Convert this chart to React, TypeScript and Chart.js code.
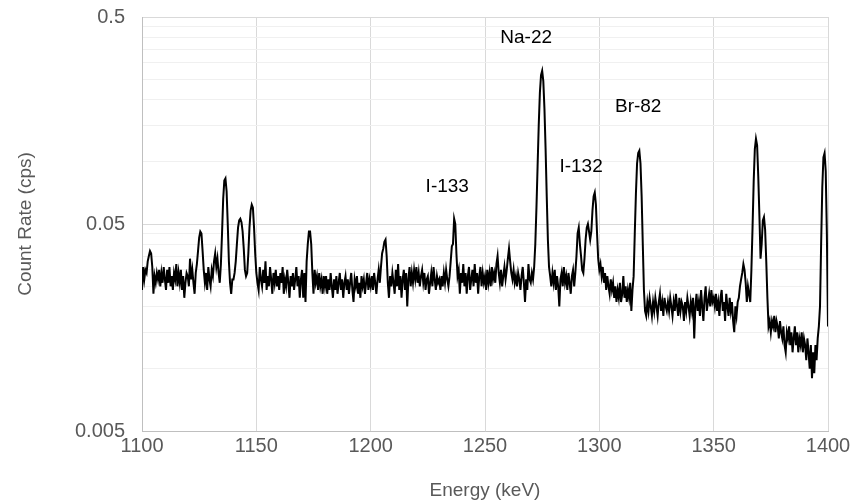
import React, { useEffect, useRef } from "react";
import { Chart, registerables } from "chart.js";

Chart.register(...registerables);

// ---- Data ----
const energyStart = 1100; // keV, first channel
const energyStep = 0.5; // keV per channel

// Count rate (cps), one row per 10 keV (20 channels per row)
const countRate: number[] = [
  // 1100
  0.024, 0.031, 0.027, 0.030, 0.029, 0.033, 0.035, 0.037, 0.036, 0.031, 0.023, 0.028, 0.026, 0.029, 0.027, 0.030, 0.025, 0.029, 0.026, 0.031,
  // 1110
  0.027, 0.024, 0.030, 0.026, 0.031, 0.025, 0.028, 0.024, 0.029, 0.027, 0.032, 0.025, 0.029, 0.026, 0.030, 0.024, 0.028, 0.022, 0.026, 0.029,
  // 1120
  0.028, 0.025, 0.034, 0.027, 0.030, 0.026, 0.023, 0.029, 0.032, 0.037, 0.043, 0.046, 0.045, 0.037, 0.030, 0.026, 0.029, 0.024, 0.031, 0.027,
  // 1130
  0.025, 0.030, 0.028, 0.033, 0.036, 0.031, 0.034, 0.029, 0.026, 0.032, 0.045, 0.066, 0.081, 0.083, 0.072, 0.050, 0.033, 0.026, 0.023, 0.027,
  // 1140
  0.027, 0.029, 0.033, 0.040, 0.048, 0.052, 0.053, 0.051, 0.046, 0.038, 0.030, 0.028, 0.029, 0.036, 0.048, 0.058, 0.062, 0.060, 0.048, 0.036,
  // 1150
  0.029, 0.026, 0.024, 0.031, 0.027, 0.025, 0.030, 0.026, 0.033, 0.024, 0.028, 0.025, 0.031, 0.027, 0.023, 0.029, 0.026, 0.030, 0.025, 0.028,
  // 1160
  0.024, 0.029, 0.026, 0.031, 0.023, 0.027, 0.025, 0.030, 0.026, 0.022, 0.028, 0.025, 0.029, 0.024, 0.027, 0.031, 0.025, 0.028, 0.022, 0.027,
  // 1170
  0.030, 0.022, 0.029, 0.021, 0.033, 0.040, 0.046, 0.046, 0.040, 0.029, 0.023, 0.030, 0.026, 0.028, 0.024, 0.029, 0.025, 0.027, 0.023, 0.028,
  // 1180
  0.025, 0.028, 0.023, 0.027, 0.024, 0.029, 0.025, 0.022, 0.027, 0.024, 0.028, 0.023, 0.026, 0.029, 0.024, 0.027, 0.022, 0.026, 0.028, 0.024,
  // 1190
  0.027, 0.023, 0.026, 0.029, 0.024, 0.021, 0.027, 0.025, 0.028, 0.023, 0.026, 0.022, 0.028, 0.025, 0.027, 0.023, 0.026, 0.029, 0.024, 0.027,
  // 1200
  0.025, 0.028, 0.024, 0.029, 0.026, 0.023, 0.027, 0.030, 0.026, 0.031, 0.036, 0.038, 0.041, 0.042, 0.035, 0.026, 0.022, 0.028, 0.025, 0.029,
  // 1210
  0.026, 0.023, 0.030, 0.025, 0.032, 0.024, 0.028, 0.022, 0.027, 0.030, 0.024, 0.029, 0.020, 0.027, 0.031, 0.025, 0.029, 0.026, 0.030, 0.027,
  // 1220
  0.031, 0.026, 0.029, 0.025, 0.028, 0.030, 0.026, 0.029, 0.024, 0.027, 0.028, 0.023, 0.026, 0.029, 0.025, 0.031, 0.027, 0.024, 0.028, 0.026,
  // 1230
  0.027, 0.024, 0.028, 0.025, 0.029, 0.026, 0.030, 0.027, 0.025, 0.028, 0.033, 0.039, 0.040, 0.053, 0.050, 0.036, 0.028, 0.030, 0.023, 0.029,
  // 1240
  0.026, 0.032, 0.025, 0.029, 0.023, 0.028, 0.031, 0.024, 0.027, 0.030, 0.025, 0.032, 0.026, 0.029, 0.023, 0.028, 0.031, 0.025, 0.029, 0.026,
  // 1250
  0.028, 0.024, 0.030, 0.026, 0.029, 0.025, 0.031, 0.027, 0.029, 0.026, 0.032, 0.035, 0.029, 0.026, 0.030, 0.025, 0.028, 0.031, 0.027, 0.030,
  // 1260
  0.034, 0.038, 0.033, 0.029, 0.027, 0.030, 0.026, 0.028, 0.025, 0.029, 0.027, 0.024, 0.028, 0.031, 0.026, 0.021, 0.027, 0.024, 0.032, 0.027,
  // 1270
  0.026, 0.029, 0.027, 0.031, 0.040, 0.060, 0.095, 0.150, 0.215, 0.262, 0.275, 0.245, 0.180, 0.115, 0.068, 0.042, 0.031, 0.028, 0.025, 0.029,
  // 1280
  0.026, 0.030, 0.024, 0.028, 0.025, 0.020, 0.027, 0.029, 0.025, 0.031, 0.026, 0.028, 0.024, 0.029, 0.026, 0.023, 0.028, 0.030, 0.025, 0.029,
  // 1290
  0.035, 0.045, 0.048, 0.040, 0.035, 0.030, 0.029, 0.034, 0.042, 0.048, 0.050, 0.046, 0.042, 0.046, 0.058, 0.068, 0.071, 0.062, 0.045, 0.034,
  // 1300
  0.030, 0.032, 0.028, 0.031, 0.026, 0.029, 0.024, 0.028, 0.025, 0.023, 0.027, 0.024, 0.026, 0.022, 0.025, 0.021, 0.024, 0.022, 0.026, 0.021,
  // 1310
  0.023, 0.028, 0.022, 0.025, 0.021, 0.024, 0.022, 0.026, 0.019, 0.024, 0.028, 0.045, 0.070, 0.098, 0.110, 0.113, 0.098, 0.068, 0.040, 0.024,
  // 1320
  0.019, 0.018, 0.021, 0.019, 0.022, 0.020, 0.018, 0.021, 0.019, 0.022, 0.020, 0.018, 0.021, 0.023, 0.019, 0.021, 0.018, 0.022, 0.020, 0.019,
  // 1330
  0.021, 0.019, 0.022, 0.020, 0.018, 0.021, 0.019, 0.023, 0.020, 0.018, 0.022, 0.019, 0.021, 0.020, 0.017, 0.021, 0.019, 0.022, 0.020, 0.018,
  // 1340
  0.021, 0.019, 0.022, 0.014, 0.020, 0.023, 0.019, 0.021, 0.018, 0.024, 0.020, 0.017, 0.022, 0.025, 0.019, 0.021, 0.023, 0.020, 0.024, 0.021,
  // 1350
  0.022, 0.020, 0.023, 0.019, 0.021, 0.018, 0.022, 0.024, 0.019, 0.021, 0.017, 0.023, 0.020, 0.018, 0.022, 0.019, 0.021, 0.017, 0.015, 0.020,
  // 1360
  0.018, 0.021, 0.022, 0.025, 0.027, 0.029, 0.032, 0.030, 0.026, 0.021, 0.025, 0.023, 0.021, 0.030, 0.048, 0.080, 0.115, 0.129, 0.120, 0.085,
  // 1370
  0.055, 0.034, 0.040, 0.052, 0.054, 0.047, 0.033, 0.022, 0.016, 0.017, 0.015, 0.017, 0.016, 0.018, 0.015, 0.017, 0.016, 0.014, 0.017, 0.015,
  // 1380
  0.014, 0.016, 0.013, 0.012, 0.015, 0.014, 0.016, 0.013, 0.015, 0.012, 0.014, 0.016, 0.013, 0.015, 0.012, 0.014, 0.013, 0.015, 0.012, 0.014,
  // 1390 - 1400
  0.013, 0.011, 0.014, 0.012, 0.010, 0.013, 0.009, 0.012, 0.0095, 0.013, 0.011, 0.014, 0.016, 0.020, 0.040, 0.075, 0.105, 0.110, 0.090, 0.045,
  0.016,
];

const energies: number[] = countRate.map((_, i) => energyStart + i * energyStep);

const xMin = 1100;
const xMax = 1400;
const xStep = 50;

const yMin = 0.005;
const yMax = 0.5;
const yLabelTicks = [0.005, 0.05, 0.5];
const yMinorMultipliers = [1, 2, 3, 4, 5, 6, 7, 8, 9];

const peakNames = ["Na-22", "Br-82", "I-132", "I-133"];
const peakLabelEnergy = [1268, 1317, 1292, 1233.5];
const peakLabelRate = [0.396, 0.184, 0.094, 0.0755];

const xTitle = "Energy (keV)";
const yTitle = "Count Rate (cps)";

// ---- Helpers ----
const yTickValues: number[] = [];
yLabelTicks.slice(0, -1).forEach((base) => {
  yMinorMultipliers.forEach((m) => yTickValues.push(base * m));
});
yTickValues.push(yMax);

const isDecade = (v: number) => {
  const r = Math.log10(v / yMin);
  return Math.abs(r - Math.round(r)) < 1e-6;
};

const FONT = "'Liberation Sans', Arial, Helvetica, sans-serif";
const TEXT_GRAY = "#595959";

const peakLabelPlugin = {
  id: "peakLabels",
  afterDatasetsDraw(chart: any) {
    const { ctx, scales } = chart;
    ctx.save();
    ctx.font = `19px ${FONT}`;
    ctx.fillStyle = "#000000";
    ctx.textAlign = "center";
    ctx.textBaseline = "middle";
    peakNames.forEach((name, i) => {
      const x = scales.x.getPixelForValue(peakLabelEnergy[i]);
      const y = scales.y.getPixelForValue(peakLabelRate[i]);
      ctx.fillText(name, x, y);
    });
    ctx.restore();
  },
};

export default function App() {
  const canvasRef = useRef<HTMLCanvasElement | null>(null);

  useEffect(() => {
    document.body.style.margin = "0";
    const canvas = canvasRef.current;
    if (!canvas) return;

    const chart = new Chart(canvas, {
      type: "line",
      data: {
        datasets: [
          {
            data: countRate.map((v, i) => ({ x: energies[i], y: v })),
            borderColor: "#000000",
            borderWidth: 2,
            pointRadius: 0,
            pointHoverRadius: 0,
            tension: 0,
            fill: false,
          },
        ],
      },
      options: {
        responsive: false,
        animation: false,
        devicePixelRatio: 1,
        layout: { padding: { left: 0, top: 17, right: 36, bottom: 0 } },
        plugins: {
          legend: { display: false },
          tooltip: { enabled: false },
        },
        scales: {
          x: {
            type: "linear",
            min: xMin,
            max: xMax,
            afterFit: (scale: any) => {
              scale.height = 71;
              scale.paddingLeft = 0;
              scale.paddingRight = 0;
            },
            ticks: {
              stepSize: xStep,
              color: TEXT_GRAY,
              font: { family: FONT, size: 20 },
              padding: 3,
              maxRotation: 0,
              callback: (value: any) => String(value),
            },
            grid: {
              color: "#d9d9d9",
              lineWidth: 1,
              drawTicks: false,
            },
            border: { color: "#bfbfbf", width: 1 },
            title: {
              display: true,
              text: xTitle,
              color: TEXT_GRAY,
              font: { family: FONT, size: 19 },
              padding: { top: 0, bottom: 0 },
            },
          },
          y: {
            type: "logarithmic",
            min: yMin,
            max: yMax,
            afterFit: (scale: any) => {
              scale.width = 142;
              scale.paddingTop = 0;
              scale.paddingBottom = 0;
            },
            afterBuildTicks: (scale: any) => {
              scale.ticks = yTickValues.map((v) => ({ value: v }));
            },
            ticks: {
              autoSkip: false,
              color: TEXT_GRAY,
              font: { family: FONT, size: 20 },
              padding: 17,
              callback: (value: any) => {
                const v = Number(value);
                return isDecade(v) ? String(v) : "";
              },
            },
            grid: {
              color: (ctx: any) =>
                ctx.tick && isDecade(ctx.tick.value) ? "#d9d9d9" : "#f0f0f0",
              lineWidth: 1,
              drawTicks: false,
            },
            border: { color: "#bfbfbf", width: 1 },
            title: {
              display: true,
              text: yTitle,
              color: TEXT_GRAY,
              font: { family: FONT, size: 19 },
              padding: { top: 14, bottom: 0 },
            },
          },
        },
      },
      plugins: [peakLabelPlugin],
    });

    return () => chart.destroy();
  }, []);

  return (
    <div style={{ width: 864, height: 502 }}>
      <canvas ref={canvasRef} width={864} height={502} style={{ display: "block" }} />
    </div>
  );
}
